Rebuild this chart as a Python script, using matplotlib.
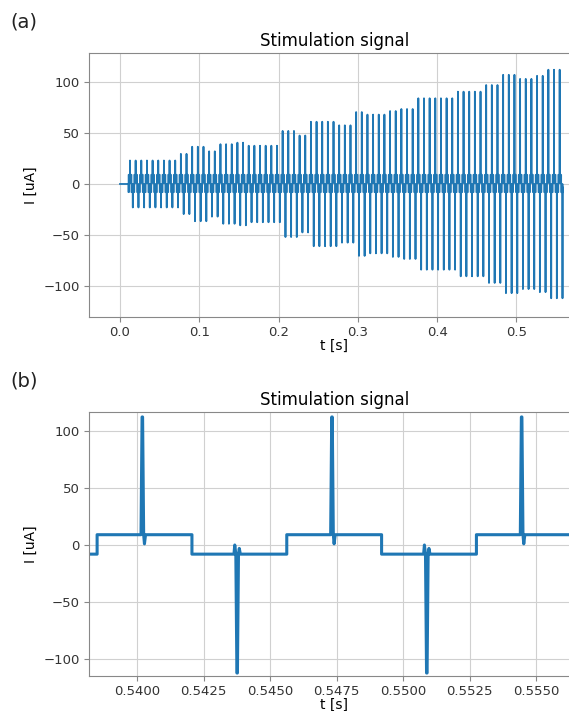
"""
Stimulation signal: full recording (a) and a zoom on three periods (b)
"""
import numpy as np
import matplotlib
matplotlib.use("Agg")
import matplotlib.pyplot as plt

# pulse amplitude levels: start time of each level [s], peak [uA]
AMP_START = [0.0125, 0.073, 0.088, 0.108, 0.126, 0.1425, 0.156, 0.2018,
             0.222, 0.238, 0.275, 0.296, 0.31, 0.335, 0.35, 0.371, 0.425,
             0.455, 0.483, 0.4995, 0.522, 0.537]
AMP_UA = [23, 29.5, 36.5, 32, 39, 40.5, 37.5, 52, 47.5, 61, 57.5, 70.5,
          68, 71.5, 73.5, 84, 90.5, 97, 107, 103, 106, 112]

# square carrier
STIM_START = 0.01088     # first rising edge [s]
PERIOD = 0.00713         # one +/- cycle [s]
LEVEL_POS = 9            # uA
LEVEL_NEG = -8           # uA
SPIKE_DELAY = 0.0017     # spike after each edge [s]
T_END = 0.5567

XTICKS_A = [0.0, 0.1, 0.2, 0.3, 0.4, 0.5]
XTICKS_B = [0.5400, 0.5425, 0.5450, 0.5475, 0.5500, 0.5525, 0.5550]
YTICKS = [-100, -50, 0, 50, 100]


def amp_at(t):
    idx = np.searchsorted(AMP_START, t, side="right") - 1
    return AMP_UA[max(idx, 0)]


# build the waveform
t_sig = [0.0, STIM_START]
v_sig = [0.0, 0.0]
k = 0
while STIM_START + k * PERIOD < T_END:
    tr = STIM_START + k * PERIOD
    tf = tr + PERIOD / 2
    ts = tr + SPIKE_DELAY
    tn = tf + SPIKE_DELAY
    a = amp_at(ts)
    # rising edge + positive spike (with small undershoot after)
    t_sig += [tr, tr, ts - 5e-5, ts - 1e-5, ts + 1e-5, ts + 5e-5, ts + 8e-5, ts + 1.2e-4]
    v_sig += [LEVEL_NEG, LEVEL_POS, LEVEL_POS, a, a, LEVEL_POS, LEVEL_POS - 8, LEVEL_POS]
    # falling edge + negative spike
    t_sig += [tf, tf, tn - 1.2e-4, tn - 9e-5, tn - 5e-5, tn - 1e-5, tn + 1e-5,
              tn + 5e-5, tn + 8e-5, tn + 1.2e-4]
    v_sig += [LEVEL_POS, LEVEL_NEG, LEVEL_NEG, LEVEL_NEG + 8, LEVEL_NEG, -a, -a,
              LEVEL_NEG, LEVEL_NEG + 5, LEVEL_NEG]
    k += 1
t_sig = np.array(t_sig)
v_sig = np.array(v_sig)

W, H = 569, 711
fig = plt.figure(figsize=(W / 100, H / 100), dpi=100)

ax_a = fig.add_axes([89 / W, 1 - 317 / H, (580 - 89) / W, (317 - 52.7) / H])
ax_b = fig.add_axes([89 / W, 1 - 676 / H, (580 - 89) / W, (676 - 411.7) / H])

ax_a.plot(t_sig, v_sig, color="#1f77b4", lw=1.3)
ax_a.set_xlim(-0.0391, 0.5801)
ax_a.set_ylim(-130.4, 128.7)
ax_a.set_xticks(XTICKS_A)

ax_b.plot(t_sig, v_sig, color="#1f77b4", lw=2.2)
ax_b.set_xlim(0.538195, 0.556654)
ax_b.set_ylim(-114.6, 116.6)
ax_b.set_xticks(XTICKS_B)
ax_b.set_xticklabels([f"{x:.4f}" for x in XTICKS_B])

for ax in (ax_a, ax_b):
    ax.set_yticks(YTICKS)
    ax.set_title("Stimulation signal", fontsize=12, pad=5)
    ax.set_xlabel("t [s]", fontsize=10, labelpad=0)
    ax.set_ylabel("I [uA]", fontsize=10)
    ax.grid(True, color="#d0d0d0", lw=0.8)
    ax.set_axisbelow(True)
    ax.tick_params(labelsize=9.5, colors="#333333", color="#888888", pad=3)
    for sp in ax.spines.values():
        sp.set_color("#888888")

fig.text(10 / W, 1 - 22 / H, "(a)", fontsize=14, va="center", ha="left", color="#222222")
fig.text(10 / W, 1 - 381 / H, "(b)", fontsize=14, va="center", ha="left", color="#222222")

fig.savefig("out.png", dpi=100)
